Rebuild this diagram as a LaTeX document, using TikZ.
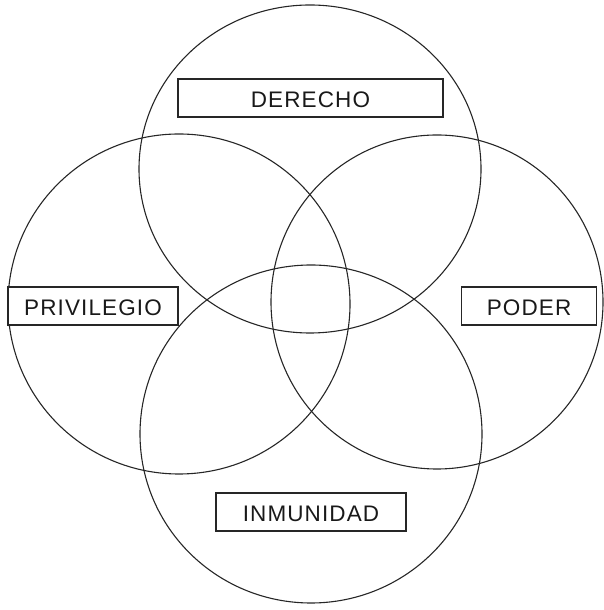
\documentclass[tikz,border=0pt]{standalone}
\usepackage{fontspec}
\setmainfont{Liberation Sans}[LetterSpace=5]
\begin{document}
\begin{tikzpicture}[x=1pt,y=1pt,
  ring/.style={draw=black!85, line width=1.1pt},
  label/.style={draw=black!85, line width=1.2pt, minimum height=38pt, inner sep=0pt,
    font=\fontsize{22.5}{24}\selectfont, text=black!90, text height=19pt, text depth=0pt}]
\useasboundingbox (0,0) rectangle (603,610);
% circles
\draw[ring] (310,441) ellipse [x radius=171, y radius=164];
\draw[ring] (179,306) ellipse [x radius=171, y radius=170];
\draw[ring] (437,308) ellipse [x radius=166, y radius=167];
\draw[ring] (311,176) ellipse [x radius=171, y radius=169];
% labels
\node[label, fill=white, minimum width=265pt] (derecho) at (310.5,512) {DERECHO};
\node[label, fill=white, minimum width=170pt] (privilegio) at (93,304) {PRIVILEGIO};
\node[label, fill=white, minimum width=135pt] (poder) at (529,304) {PODER};
\node[label, fill=white, minimum width=190pt] (inmunidad) at (311,98) {INMUNIDAD};
\end{tikzpicture}
\end{document}
